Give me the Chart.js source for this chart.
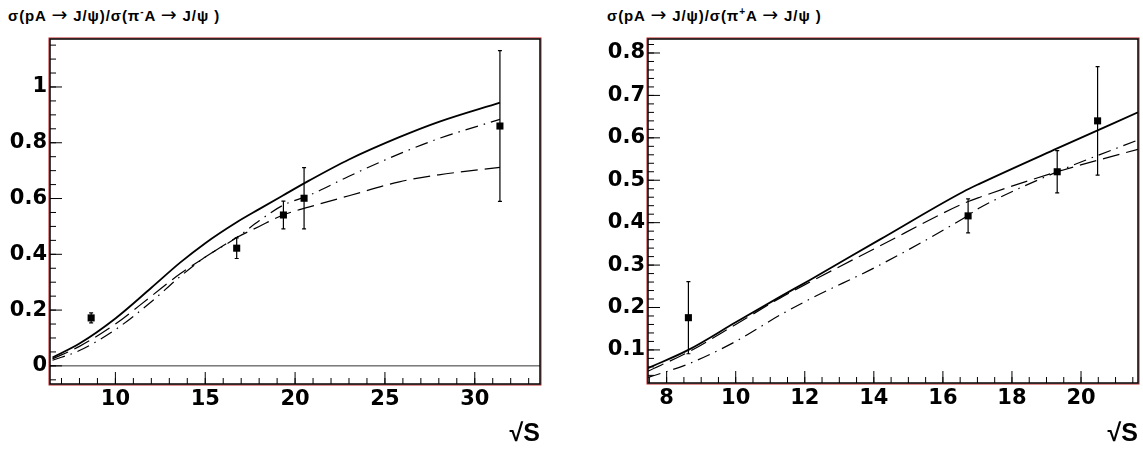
<!DOCTYPE html>
<html>
<head>
<meta charset="utf-8">
<script src="https://cdn.jsdelivr.net/npm/chart.js@4"></script>
<style>
  body { margin: 0; background: #fff; width: 1143px; height: 451px; position: relative; overflow: hidden; }
  .panel { position: absolute; top: 0; height: 451px; }
  .ttl { position: absolute; top: 6px; font: bold 15px "Liberation Sans", Arial, sans-serif; letter-spacing: 0.9px; color: #000; white-space: nowrap; }
  .ttl sup { font-size: 10px; }
  .ttl .ar { font-family: "DejaVu Sans", sans-serif; font-weight: normal; font-size: 19px; line-height: 15px; }
</style>
</head>
<body>
<div class="ttl" style="left:8px">σ(pA <span class="ar">→</span> J/ψ)/σ(π<sup>-</sup>A <span class="ar">→</span> J/ψ )</div>
<div class="ttl" style="left:607px">σ(pA <span class="ar">→</span> J/ψ)/σ(π<sup>+</sup>A <span class="ar">→</span> J/ψ )</div>
<div class="panel" style="left:0; width:560px"><canvas id="leftChart"></canvas></div>
<div class="panel" style="left:590px; width:553px"><canvas id="rightChart"></canvas></div>
<script>
// pi- panel: measured points
const leftPtX = [8.65, 16.75, 19.35, 20.5, 31.4];
const leftPtY = [0.172, 0.422, 0.541, 0.601, 0.86];
const leftPtErr = [0.018, 0.037, 0.05, 0.11, 0.27];
// pi- panel: model curves
const leftCurveX = [6.5, 8, 10, 12, 13.6, 15, 16.75, 18, 19.3, 20.8, 23, 25.8, 28, 31.4];
const leftSolid = [0.03, 0.08, 0.17, 0.28, 0.37, 0.44, 0.515, 0.562, 0.61, 0.665, 0.74, 0.82, 0.875, 0.944];
const leftDashed = [0.025, 0.07, 0.15, 0.25, 0.33, 0.39, 0.46, 0.50, 0.54, 0.57, 0.61, 0.66, 0.685, 0.712];
const leftDashDot = [0.02, 0.055, 0.13, 0.23, 0.32, 0.39, 0.46, 0.52, 0.575, 0.612, 0.68, 0.76, 0.815, 0.884];

// pi+ panel: measured points
const rightPtX = [8.63, 16.73, 19.31, 20.48];
const rightPtY = [0.176, 0.416, 0.52, 0.64];
const rightPtErr = [0.085, 0.04, 0.05, 0.128];
// pi+ panel: model curves
const rightCurveX = [7.46, 8.63, 10, 11.28, 12.15, 14.17, 16.59, 17.07, 19.31, 21.65];
const rightSolid = [0.057, 0.10, 0.165, 0.225, 0.265, 0.36, 0.473, 0.492, 0.575, 0.66];
const rightDashed = [0.05, 0.095, 0.16, 0.222, 0.26, 0.345, 0.445, 0.46, 0.52, 0.573];
const rightDashDot = [0.035, 0.067, 0.12, 0.182, 0.22, 0.30, 0.41, 0.435, 0.52, 0.595];

const FONT = 'DejaVu Sans';

function xy(xs, ys) { return xs.map((x, i) => ({ x: x, y: ys[i] })); }

// frame, inside ticks, zero line and error bars (ROOT look)
const rootStyle = {
  id: 'rootStyle',
  afterDatasetsDraw(chart, args, opts) {
    const ctx = chart.ctx, a = chart.chartArea;
    const xs = chart.scales.x, ys = chart.scales.y;
    ctx.save();
    // error bars
    const meta = chart.getDatasetMeta(0);
    meta.data.forEach((pt, i) => {
      const d = chart.data.datasets[0].data[i];
      const y1 = ys.getPixelForValue(d.y - opts.err[i]);
      const y2 = ys.getPixelForValue(d.y + opts.err[i]);
      ctx.strokeStyle = '#000'; ctx.lineWidth = 1.2;
      ctx.beginPath();
      ctx.moveTo(pt.x, y1); ctx.lineTo(pt.x, y2);
      ctx.moveTo(pt.x - 2, y1); ctx.lineTo(pt.x + 2, y1);
      ctx.moveTo(pt.x - 2, y2); ctx.lineTo(pt.x + 2, y2);
      ctx.stroke();
    });
    // zero line
    if (opts.zeroLine) {
      const yz = ys.getPixelForValue(0);
      ctx.strokeStyle = '#333'; ctx.lineWidth = 1;
      ctx.beginPath(); ctx.moveTo(a.left, yz); ctx.lineTo(a.right, yz); ctx.stroke();
    }
    // ticks
    ctx.strokeStyle = '#000'; ctx.lineWidth = 1;
    const tickLoop = (scale, step, len, horiz) => {
      let v = Math.ceil(scale.min / step - 1e-9) * step;
      for (; v <= scale.max + 1e-9; v += step) {
        const p = scale.getPixelForValue(v);
        ctx.beginPath();
        if (horiz) { ctx.moveTo(p, a.bottom); ctx.lineTo(p, a.bottom - len); }
        else { ctx.moveTo(a.left, p); ctx.lineTo(a.left + len, p); }
        ctx.stroke();
      }
    };
    tickLoop(xs, opts.xMinor, 6, true);
    tickLoop(xs, opts.xMajor, 12, true);
    tickLoop(ys, opts.yMinor, 6, false);
    tickLoop(ys, opts.yMajor, 12, false);
    // frame
    ctx.strokeStyle = '#c02020'; ctx.lineWidth = 1;
    ctx.strokeRect(a.left - 1, a.top - 1, a.right - a.left + 2, a.bottom - a.top + 2);
    ctx.strokeStyle = '#000'; ctx.lineWidth = 1.5;
    ctx.strokeRect(a.left, a.top, a.right - a.left, a.bottom - a.top);
    ctx.restore();
  }
};

function makeChart(id, cfg) {
  const ctx = document.getElementById(id).getContext('2d');
  return new Chart(ctx, {
    data: {
      datasets: [{
        type: 'scatter',
        data: xy(cfg.ptX, cfg.ptY),
        pointStyle: 'rect',
        pointRadius: 5,
        backgroundColor: '#000',
        borderColor: '#000',
        borderWidth: 0
      }, {
        type: 'line',
        data: xy(cfg.curveX, cfg.solid),
        borderColor: '#000',
        borderWidth: 1.8,
        pointRadius: 0,
        cubicInterpolationMode: 'monotone'
      }, {
        type: 'line',
        data: xy(cfg.curveX, cfg.dashed),
        borderColor: '#000',
        borderWidth: 1.2,
        borderDash: [17, 7],
        pointRadius: 0,
        cubicInterpolationMode: 'monotone'
      }, {
        type: 'line',
        data: xy(cfg.curveX, cfg.dashDot),
        borderColor: '#000',
        borderWidth: 1.2,
        borderDash: [13, 6, 1.5, 6],
        pointRadius: 0,
        cubicInterpolationMode: 'monotone'
      }]
    },
    options: {
      responsive: true,
      maintainAspectRatio: false,
      animation: false,
      layout: { padding: { top: 39, left: 0, right: cfg.padRight, bottom: 0 } },
      plugins: {
        legend: { display: false },
        tooltip: { enabled: false },
        rootStyle: cfg.style
      },
      scales: {
        x: {
          type: 'linear',
          min: cfg.xMin, max: cfg.xMax,
          grid: { display: false, drawTicks: false },
          border: { display: false },
          ticks: {
            stepSize: cfg.style.xMajor, includeBounds: false, autoSkip: false, maxRotation: 0,
            padding: 3, color: '#000', font: { family: FONT, size: 21, weight: 'bold' }
          },
          title: {
            display: true, text: '√S', align: 'end', color: '#000',
            font: { family: 'Liberation Sans', size: 25, weight: 'bold' }, padding: { top: 0, bottom: 2 }
          },
          afterFit: s => { s.height = cfg.xAxisH; }
        },
        y: {
          type: 'linear',
          min: cfg.yMin, max: cfg.yMax,
          grid: { display: false, drawTicks: false },
          border: { display: false },
          ticks: {
            stepSize: cfg.style.yMajor, includeBounds: false, autoSkip: false,
            padding: 3, color: '#000', font: { family: FONT, size: 21, weight: 'bold' },
            callback: v => String(+v.toFixed(2))
          },
          afterFit: s => { s.width = cfg.yAxisW; }
        }
      }
    },
    plugins: [rootStyle]
  });
}

makeChart('leftChart', {
  ptX: leftPtX, ptY: leftPtY,
  curveX: leftCurveX, solid: leftSolid, dashed: leftDashed, dashDot: leftDashDot,
  xMin: 6.36, xMax: 33.63, yMin: -0.065, yMax: 1.172,
  padRight: 20, yAxisW: 50, xAxisH: 67,
  style: { err: leftPtErr, zeroLine: true, xMajor: 5, xMinor: 1, yMajor: 0.2, yMinor: 0.05 }
});

makeChart('rightChart', {
  ptX: rightPtX, ptY: rightPtY,
  curveX: rightCurveX, solid: rightSolid, dashed: rightDashed, dashDot: rightDashDot,
  xMin: 7.46, xMax: 21.65, yMin: 0.022, yMax: 0.833,
  padRight: 5, yAxisW: 58, xAxisH: 68,
  style: { err: rightPtErr, zeroLine: false, xMajor: 2, xMinor: 0.5, yMajor: 0.1, yMinor: 0.02 }
});
</script>
</body>
</html>
